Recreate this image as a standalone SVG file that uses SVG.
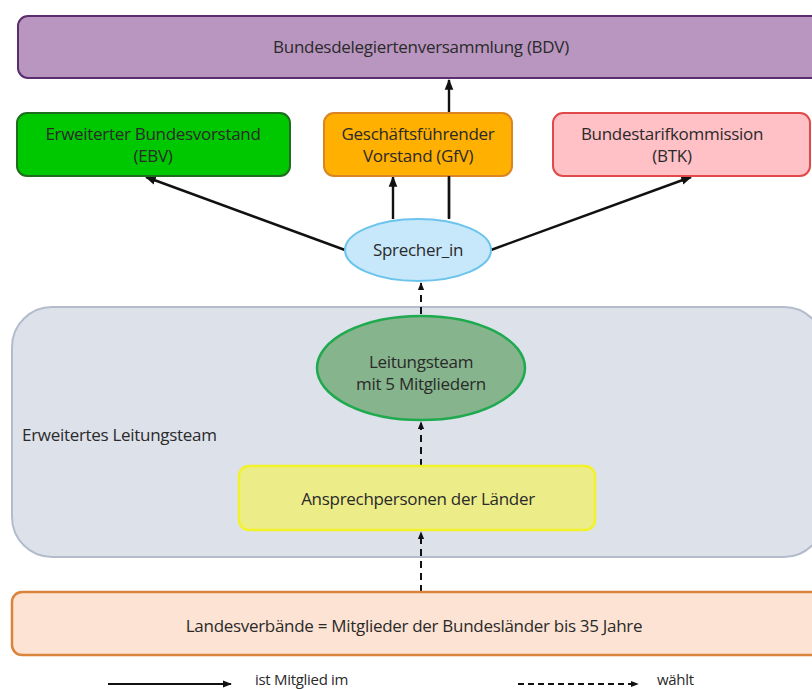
<svg xmlns="http://www.w3.org/2000/svg" width="812" height="689" viewBox="0 0 812 689">
<style>
text{font-family:"Open Sans","Noto Sans","Liberation Sans",sans-serif;font-size:17px;fill:#2a2a2a;text-anchor:middle;letter-spacing:-0.3px}
.solid{stroke:#111;stroke-width:2.4;fill:none}
.dash{stroke:#111;stroke-width:2;fill:none;stroke-dasharray:7 5}
</style>
<defs>
<marker id="ah" viewBox="0 0 10 10" refX="9" refY="5" markerWidth="4.5" markerHeight="4.5" orient="auto" markerUnits="strokeWidth">
<path d="M0,1 L10,5 L0,9 Z" fill="#111"/>
</marker>
<marker id="ahd" viewBox="0 0 10 10" refX="9" refY="5" markerWidth="4" markerHeight="4" orient="auto" markerUnits="strokeWidth">
<path d="M0,1 L10,5 L0,9 Z" fill="#111"/>
</marker>
</defs>
<rect width="812" height="689" fill="#fff"/>

<g id="container">
<rect x="12" y="307" width="812" height="250" rx="40" fill="#dde1ea" stroke="#b4bccb" stroke-width="2"/>
<text x="22" y="441" style="text-anchor:start">Erweitertes Leitungsteam</text>
</g>

<g id="connectors">
<line class="solid" x1="449" y1="218" x2="449" y2="80" marker-end="url(#ah)"/>
<line class="solid" x1="345" y1="250" x2="146" y2="177" marker-end="url(#ah)"/>
<line class="solid" x1="393" y1="219" x2="393" y2="177" marker-end="url(#ah)"/>
<line class="solid" x1="491" y1="250" x2="691" y2="177" marker-end="url(#ah)"/>
<line class="dash" x1="421" y1="314" x2="421" y2="283" marker-end="url(#ahd)"/>
<line class="dash" x1="421" y1="466" x2="421" y2="422" marker-end="url(#ahd)"/>
<line class="dash" x1="421" y1="592" x2="421" y2="532" marker-end="url(#ahd)"/>
</g>

<g id="bdv">
<rect x="18" y="16" width="810" height="62" rx="10" fill="#b996c0" stroke="#5c2d6e" stroke-width="2"/>
<text x="421" y="53">Bundesdelegiertenversammlung (BDV)</text>
</g>
<g id="ebv">
<rect x="17" y="113" width="273" height="63" rx="10" fill="#00c800" stroke="#1f6d1f" stroke-width="2"/>
<text x="153" y="140">Erweiterter Bundesvorstand</text>
<text x="153" y="162">(EBV)</text>
</g>
<g id="gfv">
<rect x="324" y="113" width="188" height="63" rx="10" fill="#ffb000" stroke="#d98524" stroke-width="2"/>
<text x="418" y="140">Geschäftsführender</text>
<text x="418" y="162">Vorstand (GfV)</text>
</g>
<g id="btk">
<rect x="553" y="113" width="257" height="63" rx="10" fill="#ffc0c6" stroke="#e14a4a" stroke-width="2"/>
<text x="672" y="140">Bundestarifkommission</text>
<text x="672" y="162">(BTK)</text>
</g>
<g id="sprecher">
<ellipse cx="418" cy="250" rx="73" ry="31" fill="#c6e8fa" stroke="#6cc4ec" stroke-width="2"/>
<text x="418" y="256">Sprecher_in</text>
</g>
<line class="solid" x1="449" y1="176" x2="449" y2="219"/>
<g id="leitungsteam">
<ellipse cx="421" cy="368" rx="104" ry="52" fill="#86b48c" stroke="#1faa50" stroke-width="2.5"/>
<text x="421" y="368">Leitungsteam</text>
<text x="421" y="390">mit 5 Mitgliedern</text>
</g>
<g id="ansprech">
<rect x="239" y="466" width="356" height="64" rx="10" fill="#ecec88" stroke="#f2f22a" stroke-width="2.5"/>
<text x="418" y="505">Ansprechpersonen der Länder</text>
</g>
<g id="landes">
<rect x="12" y="592" width="810" height="63" rx="10" fill="#fde3d3" stroke="#d9843a" stroke-width="2.5"/>
<text x="414" y="632">Landesverbände = Mitglieder der Bundesländer bis 35 Jahre</text>
</g>

<g id="legend">
<line class="solid" x1="108" y1="684" x2="231" y2="684" marker-end="url(#ah)" style="stroke-width:2"/>
<text x="255" y="685" style="text-anchor:start;font-size:15px">ist Mitglied im</text>
<line class="dash" x1="518" y1="684" x2="638" y2="684" marker-end="url(#ahd)" style="stroke-dasharray:6 4"/>
<text x="657" y="685" style="text-anchor:start;font-size:15px">wählt</text>
</g>
</svg>
